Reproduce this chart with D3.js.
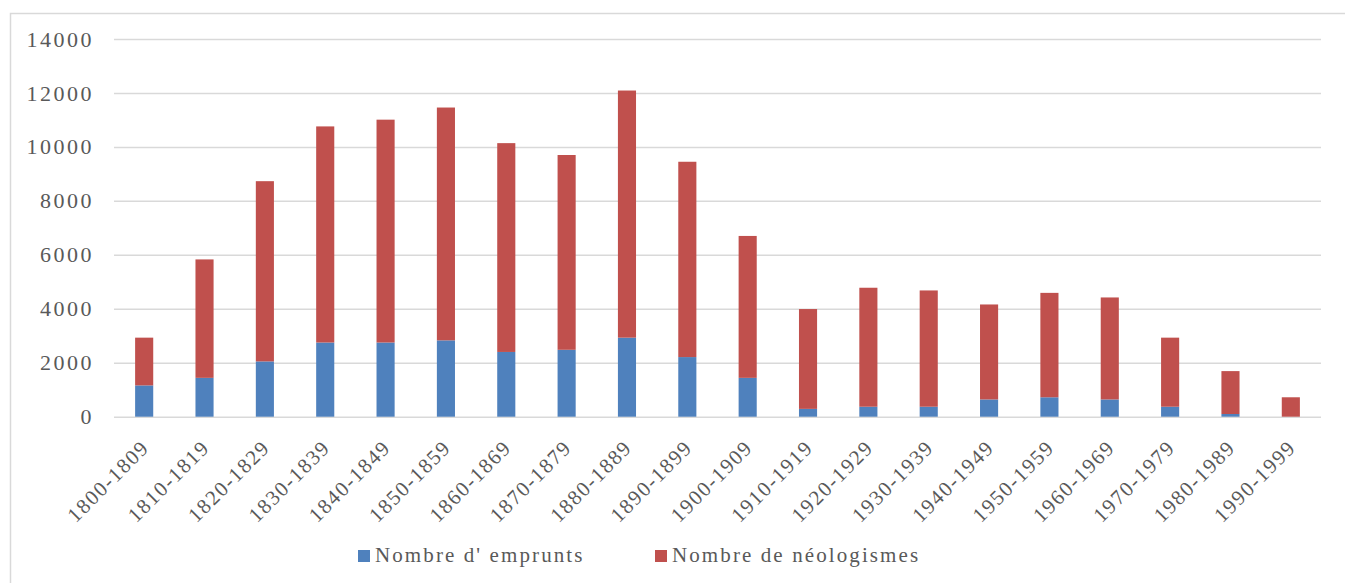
<!DOCTYPE html>
<html>
<head>
<meta charset="utf-8">
<script src="https://cdn.jsdelivr.net/npm/d3@7"></script>
<style>
  body { margin: 0; background: #fff; }
  text { font-family: "Liberation Serif", serif; fill: #595959; }
</style>
</head>
<body>
<div id="vis"></div>
<script>
// data
const CATEGORIES = ["1800-1809", "1810-1819", "1820-1829", "1830-1839", "1840-1849",
                    "1850-1859", "1860-1869", "1870-1879", "1880-1889", "1890-1899",
                    "1900-1909", "1910-1919", "1920-1929", "1930-1939", "1940-1949",
                    "1950-1959", "1960-1969", "1970-1979", "1980-1989", "1990-1999"];
const EMPRUNTS = [1160, 1440, 2050, 2750, 2750, 2830, 2400, 2480, 2930, 2210,
                  1440, 290, 370, 370, 640, 720, 640, 370, 100, 0];
const NEOLOGISMES = [1770, 4390, 6680, 8010, 8260, 8630, 7740, 7220, 9160, 7240,
                     5260, 3700, 4410, 4310, 3520, 3870, 3780, 2560, 1590, 720];
const SERIES = ["Nombre d' emprunts", "Nombre de néologismes"];
const Y_TICKS = [0, 2000, 4000, 6000, 8000, 10000, 12000, 14000];

const COLORS = ["#4f81bd", "#c0504d"];

// frame
const FRAME_WIDTH = 1345;
const FRAME_HEIGHT = 583;
const PLOT = {left: 114, right: 1321, top: 39, bottom: 416.7};

const FRAME = d3.select("#vis")
                .append("svg")
                  .attr("width", FRAME_WIDTH)
                  .attr("height", FRAME_HEIGHT);

// chart border (only top and left are inside the picture)
FRAME.append("rect")
      .attr("x", 10.5)
      .attr("y", 13.5)
      .attr("width", FRAME_WIDTH)
      .attr("height", FRAME_HEIGHT)
      .attr("fill", "none")
      .attr("stroke", "#d9d9d9")
      .attr("stroke-width", 1.5);

// scales
const X = d3.scaleBand()
              .domain(CATEGORIES)
              .range([PLOT.left, PLOT.right])
              .paddingInner(0.7)
              .paddingOuter(0.35);

const Y = d3.scaleLinear()
              .domain([0, 14000])
              .range([PLOT.bottom, PLOT.top]);

// gridlines + y labels
const yAxis = FRAME.append("g")
      .attr("transform", "translate(" + PLOT.left + ",0)")
      .call(d3.axisLeft(Y)
              .tickValues(Y_TICKS)
              .tickFormat(d3.format("d"))
              .tickSize(-(PLOT.right - PLOT.left))
              .tickPadding(20));
yAxis.select(".domain").remove();
yAxis.selectAll(".tick line").attr("stroke", "#d9d9d9").attr("stroke-width", 1.5);
yAxis.selectAll(".tick text")
      .attr("font-size", "22px")
      .attr("letter-spacing", "2.5px")
      .attr("font-family", "Liberation Serif")
      .attr("fill", "#595959");

// stacked bars
const rows = CATEGORIES.map((c, i) => ({cat: c, a: EMPRUNTS[i], b: NEOLOGISMES[i]}));
const stack = d3.stack().keys(["a", "b"])(rows);

FRAME.append("g")
    .selectAll("g")
    .data(stack)
    .enter()
    .append("g")
      .attr("fill", (d, i) => COLORS[i])
    .selectAll("rect")
    .data((d) => d)
    .enter()
    .append("rect")
      .attr("x", (d) => X(d.data.cat))
      .attr("y", (d) => Y(d[1]))
      .attr("width", X.bandwidth())
      .attr("height", (d) => Y(d[0]) - Y(d[1]));

// x labels
const xAxis = FRAME.append("g")
      .attr("transform", "translate(0," + PLOT.bottom + ")")
      .call(d3.axisBottom(X).tickSize(0).tickPadding(0));
xAxis.select(".domain").remove();
xAxis.selectAll(".tick text")
      .attr("font-size", "21px")
      .attr("letter-spacing", "1.6px")
      .attr("font-family", "Liberation Serif")
      .attr("fill", "#595959")
      .attr("text-anchor", "end")
      .attr("dy", "0.35em")
      .attr("transform", "translate(1,27) rotate(-45)");

// legend
const LEGEND_X = [358, 655];
const legend = FRAME.append("g")
    .selectAll("g")
    .data(SERIES)
    .enter()
    .append("g")
      .attr("transform", (d, i) => "translate(" + LEGEND_X[i] + ",556)");
legend.append("rect")
      .attr("x", 0)
      .attr("y", -6)
      .attr("width", 12)
      .attr("height", 12)
      .attr("fill", (d, i) => COLORS[i]);
legend.append("text")
      .attr("x", 17)
      .attr("y", 6)
      .attr("font-size", "21px")
      .attr("letter-spacing", "2.1px")
      .text((d) => d);
</script>
</body>
</html>
